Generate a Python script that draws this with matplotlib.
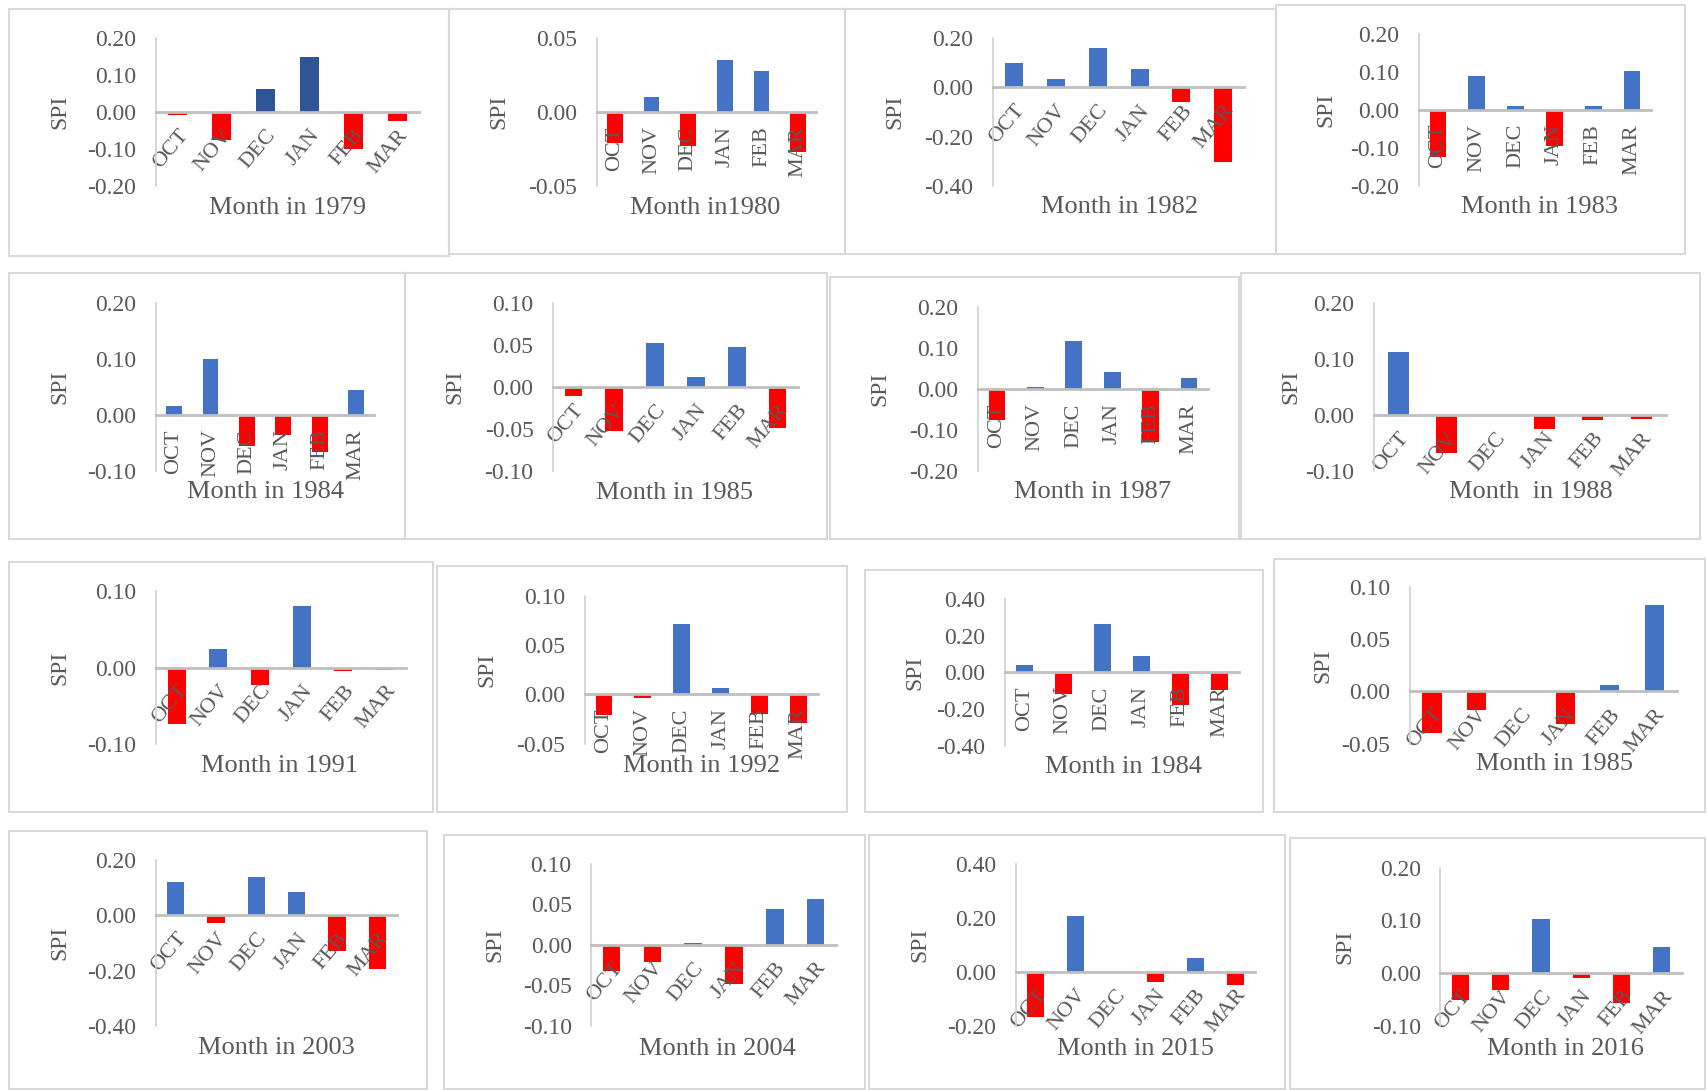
import matplotlib
matplotlib.use("Agg")
import matplotlib.pyplot as plt
from matplotlib.patches import Rectangle

plt.rcParams['font.family'] = ['Liberation Serif', 'DejaVu Serif']

# 数据：每个年份的月 SPI
months = ["OCT", "NOV", "DEC", "JAN", "FEB", "MAR"]

spi_1979 = [-0.008, -0.075, 0.062, 0.148, -0.099, -0.025]
spi_1980 = [-0.021, 0.010, -0.023, 0.035, 0.028, -0.027]
spi_1982 = [0.100, 0.033, 0.161, 0.075, -0.060, -0.300]
spi_1983 = [-0.123, 0.088, 0.011, -0.095, 0.011, 0.102]
spi_1984a = [0.017, 0.100, -0.055, -0.035, -0.065, 0.044]
spi_1985a = [-0.011, -0.052, 0.052, 0.012, 0.048, -0.048]
spi_1987 = [-0.074, 0.006, 0.118, 0.043, -0.128, 0.028]
spi_1988 = [0.113, -0.068, 0.001, -0.025, -0.009, -0.007]
spi_1991 = [-0.074, 0.024, -0.023, 0.081, -0.004, -0.003]
spi_1992 = [-0.021, -0.004, 0.071, 0.006, -0.020, -0.029]
spi_1984b = [0.040, -0.120, 0.265, 0.087, -0.178, -0.096]
spi_1985b = [-0.040, -0.018, 0.000, -0.031, 0.006, 0.083]
spi_2003 = [0.122, -0.029, 0.139, 0.086, -0.129, -0.194]
spi_2004 = [-0.033, -0.022, 0.002, -0.049, 0.044, 0.056]
spi_2015 = [-0.169, 0.206, -0.002, -0.037, 0.049, -0.048]
spi_2016 = [-0.052, -0.033, 0.102, -0.009, -0.057, 0.049]

titles = ["Month in 1979", "Month in1980", "Month in 1982", "Month in 1983",
          "Month in 1984", "Month in 1985", "Month in 1987", "Month  in 1988",
          "Month in 1991", "Month in 1992", "Month in 1984", "Month in 1985",
          "Month in 2003", "Month in 2004", "Month in 2015", "Month in 2016"]

yticks = [[-0.2, -0.1, 0.0, 0.1, 0.2], [-0.05, 0.0, 0.05], [-0.4, -0.2, 0.0, 0.2], [-0.2, -0.1, 0.0, 0.1, 0.2],
          [-0.1, 0.0, 0.1, 0.2], [-0.1, -0.05, 0.0, 0.05, 0.1], [-0.2, -0.1, 0.0, 0.1, 0.2], [-0.1, 0.0, 0.1, 0.2],
          [-0.1, 0.0, 0.1], [-0.05, 0.0, 0.05, 0.1], [-0.4, -0.2, 0.0, 0.2, 0.4], [-0.05, 0.0, 0.05, 0.1],
          [-0.4, -0.2, 0.0, 0.2], [-0.1, -0.05, 0.0, 0.05, 0.1], [-0.2, 0.0, 0.2, 0.4], [-0.1, 0.0, 0.1, 0.2]]

series = [spi_1979, spi_1980, spi_1982, spi_1983, spi_1984a, spi_1985a, spi_1987, spi_1988,
          spi_1991, spi_1992, spi_1984b, spi_1985b, spi_2003, spi_2004, spi_2015, spi_2016]

# 布局（按 1568x1001 的缩略图像素）
W, H = 1568.0, 1001.0
boxes = [(8, 8, 412, 235), (412, 8, 776, 233), (776, 8, 1172, 233), (1172, 5, 1548, 233),
         (8, 251, 372, 495), (372, 251, 760, 495), (762, 254, 1138, 495), (1140, 251, 1562, 495),
         (8, 516, 398, 746), (401, 520, 778, 746), (795, 523, 1160, 746), (1170, 513, 1566, 746),
         (8, 763, 392, 1000), (408, 767, 795, 1000), (798, 767, 1180, 1000), (1185, 770, 1566, 1000)]
# 轴区域: 左, 上, 右, 下
areas = [(143, 35, 385, 171), (548, 35, 750, 171), (912, 35, 1143, 171), (1303, 31, 1517, 171),
         (143, 278, 344, 433), (508, 278, 733, 433), (898, 282, 1110, 433), (1262, 278, 1530, 433),
         (143, 543, 373, 683), (537, 547, 751, 683), (923, 550, 1138, 685), (1295, 539, 1540, 683),
         (143, 790, 365, 942), (543, 793, 768, 942), (933, 793, 1153, 942), (1323, 797, 1545, 942)]
title_xy = [(264, 191), (648, 191), (1028, 190), (1414, 190),
            (244, 452), (620, 453), (1004, 452), (1406, 452),
            (257, 703), (644, 703), (1032, 704), (1428, 702),
            (254, 962), (659, 963), (1043, 963), (1438, 963)]
spi_x = [55, 458, 822, 1218, 55, 418, 808, 1186, 55, 447, 840, 1215, 55, 455, 845, 1235]
vertical = [False, True, False, True, True, False, True, False,
            False, True, True, False, False, False, False, False]

fig = plt.figure(figsize=(17.07, 10.90), dpi=100)
grey = "#595959"

for i in range(16):
    x0, y0, x1, y1 = boxes[i]
    fig.add_artist(Rectangle((x0 / W, 1 - y1 / H), (x1 - x0) / W, (y1 - y0) / H,
                             transform=fig.transFigure, fill=False, ec="#D9D9D9", lw=1.5))
    l, t, r, b = areas[i]
    ax = fig.add_axes([l / W, 1 - b / H, (r - l) / W, (b - t) / H])
    ax.patch.set_visible(False)
    # spine 位置要先设，set_position 会重置 tick
    for s in ["top", "right"]:
        ax.spines[s].set_visible(False)
    ax.spines["bottom"].set_position(("data", 0))
    ax.spines["bottom"].set_color("#BFBFBF")
    ax.spines["bottom"].set_linewidth(2)
    ax.spines["left"].set_color("#D0D0D0")
    ax.spines["left"].set_linewidth(1.2)

    vals = series[i]
    cols = []
    for v in vals:
        if v < 0:
            cols.append("#FF0000")
        elif i == 0:
            cols.append("#2F5597")
        else:
            cols.append("#4472C4")
    ax.bar(range(6), vals, width=0.43, color=cols, zorder=1)
    ax.set_xlim(-0.5, 5.5)
    yt = yticks[i]
    ax.set_ylim(yt[0], yt[-1])
    ax.tick_params(length=0)
    ax.tick_params(axis="y", pad=14)
    ax.tick_params(axis="x", pad=10)
    ax.set_yticks(yt)
    ax.set_yticklabels(["%.2f" % v for v in yt], fontsize=17, color=grey)
    ax.set_xticks(range(6))
    if vertical[i]:
        ax.set_xticklabels(months, rotation=90, fontsize=16, color=grey, ha="center", va="top")
    else:
        ax.set_xticklabels(months, rotation=50, fontsize=16, color=grey, ha="right", va="top",
                           rotation_mode="anchor")
    tx, ty = title_xy[i]
    fig.text(tx / W, 1 - ty / H, titles[i], fontsize=19, color=grey, ha="center", va="center")
    fig.text(spi_x[i] / W, 1 - ((t + b) / 2) / H, "SPI", fontsize=17, color=grey,
             rotation=90, ha="center", va="center")

fig.savefig("out.png", dpi=100)
